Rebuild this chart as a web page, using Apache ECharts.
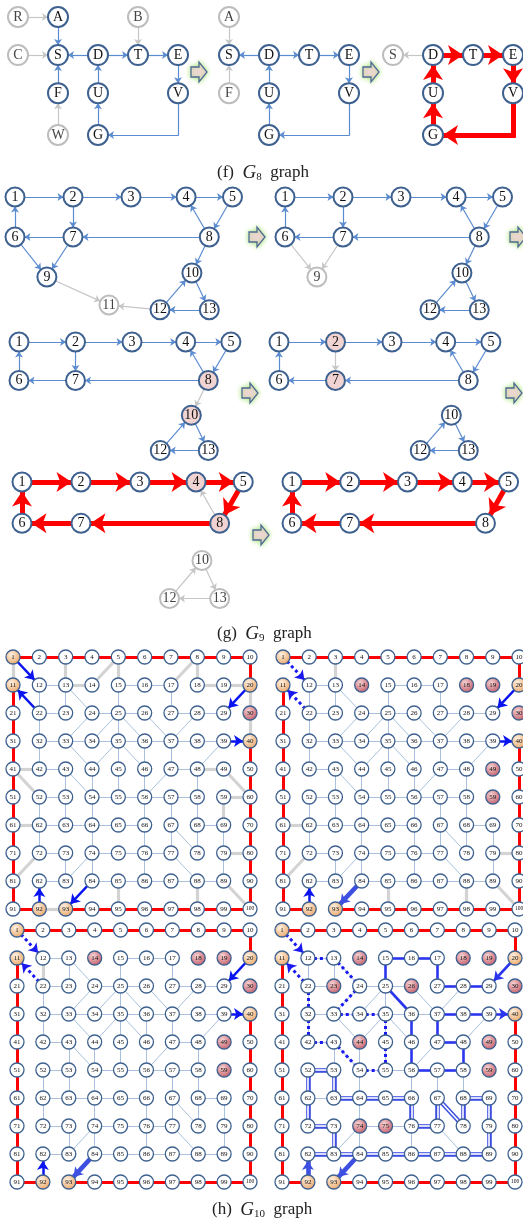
<!DOCTYPE html>
<html>
<head>
<meta charset="utf-8">
<script src="https://cdn.jsdelivr.net/npm/echarts@6/dist/echarts.min.js"></script>
<style>
  html, body { margin: 0; padding: 0; background: #fff; }
  #chart { width: 523px; height: 1220px; }
</style>
</head>
<body>
<div id="chart"></div>
<script>
// ---------------- data ----------------
// G8: node lattice positions [col, row]; K is the hidden bend of the V -> G connector
const g8Pos = { R: [0, 0], A: [1, 0], B: [3, 0], C: [0, 1], S: [1, 1], D: [2, 1], T: [3, 1], E: [4, 1],
  F: [1, 2], U: [2, 2], V: [4, 2], W: [1, 3.1], G: [2, 3.1], K: [4, 3.1] }

const f1Nodes = 'R A B C S D T E F U V W G K'
const f1Gray = 'R B C W'
const f1Blue = 'A>S D>S D>T T>E E>V F>S U>D G>U V-K K>G'
const f1GrayEdges = 'R>A C>S B>T W>F'

const f2Nodes = 'A S D T E F U V G K'
const f2Gray = 'A F'
const f2Blue = 'D>S D>T T>E E>V V-K K>G G>U U>D'
const f2GrayEdges = 'A>S F>S'

const f3Nodes = 'S D T E U V G K'
const f3Gray = 'S'
const f3Red = 'D>T T>E E>V V-K K>G G>U U>D'
const f3GrayEdges = 'D>S'

// G9
const g9Pos = { 1: [0, 0], 2: [1, 0], 3: [2, 0], 4: [2.95, 0], 5: [3.75, 0], 6: [0, 1], 7: [1, 1], 8: [3.35, 1],
  9: [0.55, 2], 10: [3.05, 1.9], 11: [1.62, 2.7], 12: [2.5, 2.82], 13: [3.35, 2.82] }
const g9Core = '1>2 2>3 3>4 4>5 6>1 7>6 8>7 8>4 5>8'

const q1Nodes = '1 2 3 4 5 6 7 8 9 10 11 12 13'
const q1Blue = g9Core + ' 2>7 6>9 7>9 8>10 10>13 13>12 12>10'
const q1GrayEdges = '9>11 12>11'
const q1Gray = '11'

const q2Nodes = '1 2 3 4 5 6 7 8 9 10 12 13'
const q2Blue = g9Core + ' 2>7 8>10 10>13 13>12 12>10'
const q2GrayEdges = '6>9 7>9'
const q2Gray = '9'

const q3Nodes = '1 2 3 4 5 6 7 8 10 12 13'
const q3Blue = g9Core + ' 2>7 10>13 13>12 12>10'
const q3GrayEdges = '8>10'
const q3Pink = '8 10'

const q4Nodes = '1 2 3 4 5 6 7 8 10 12 13'
const q4Blue = g9Core + ' 10>13 13>12 12>10'
const q4GrayEdges = '2>7'
const q4Pink = '2 7'

const q5Nodes = '1 2 3 4 5 6 7 8 10 12 13'
const q5Red = '1>2 2>3 3>4 4>5 5>8 8>7 7>6 6>1'
const q5GrayEdges = '8>4 10>13 13>12 12>10'
const q5Gray = '10 12 13'
const q5Pink = '4 8'

const q6Nodes = '1 2 3 4 5 6 7 8'
const q6Red = '1>2 2>3 3>4 4>5 5>8 8>7 7>6 6>1'

// G10: 10 x 10 grid, node n at column (n-1)%10, row floor((n-1)/10)
const g10Thin = '12-13 15-16 16-17 22-23 24-25 25-26 27-28 28-29 32-33 33-34 34-35 35-36 36-37 37-38 38-39 ' +
  '42-43 47-48 52-53 54-55 55-56 56-57 57-58 62-63 63-64 64-65 65-66 68-69 72-73 74-75 75-76 76-77 ' +
  '82-83 84-85 85-86 86-87 87-88 88-89 12-22 13-23 15-25 17-27 22-32 32-42 25-35 35-45 36-46 37-47 ' +
  '43-53 44-54 45-55 46-56 48-58 52-62 53-63 54-64 56-66 57-67 58-68 62-72 64-74 66-76 67-77 68-78 ' +
  '69-79 73-83 74-84 76-86 79-89 13-24 24-33 25-34 25-36 26-37 28-37 33-44 35-44 35-46 39-48 43-54 ' +
  '47-56 67-78 74-83 77-88'
const g10Cycle = '1-2 2-3 3-4 4-5 5-6 6-7 7-8 8-9 9-10 10-20 40-50 50-60 60-70 70-80 80-90 90-100 ' +
  '99-100 98-99 97-98 96-97 95-96 94-95 93-94 91-92 81-91 71-81 61-71 51-61 41-51 31-41 21-31 11-21'

const h1Gray = '1-11 3-13 5-14 5-15 8-17 8-18 13-14 18-19 19-20 20-30 30-40 41-42 41-52 48-49 49-60 ' +
  '59-60 59-69 61-62 72-81 79-80 92-93 85-95 88-98 89-100'
const h1Arrow = '1>12 22>11 20>29 39>40 92>82 84>93'
const h1Orange = '1 11 20 40 92 93'
const h1Pink = '30'

const h2Gray = '3-13 61-62 72-81 79-80 85-95 88-98 89-100'
const h2Dots = '1>12 22>11'
const h2Arrow = '20>29 39>40 92>82'
const h2DoubleArrow = '84>93'
const h2Orange = '1 11 20 40 92 93'
const h2Pink = '14 18 19 30 49 59'

const h3Gray = '12-22'
const h3Dots = '1>12 22>11'
const h3Arrow = '20>29 39>40 92>82'
const h3DoubleArrow = '84>93'
const h3Orange = '1 11 20 40 92 93'
const h3Pink = '14 18 19 30 49 59'

const h4Dots = '1>12 12-13 13-24 24-33 33-34 34-35 35-45 45-55 54-55 43-54 42-43 32-42 22-32 22>11'
const h4Solid = '15-16 16-17 17-27 27-28 28-29 15-25 25-36 36-46 46-56 56-57 57-58 48-58 47-48 37-47 ' +
  '37-38 38-39 39>40 20>29'
const h4Double = '52-53 52-62 62-72 72-73 53-63 63-64 64-65 65-66 66-76 76-77 67-77 67-78 68-78 68-69 ' +
  '69-79 79-89 73-83 82-83 83-84 84-85 85-86 86-87 87-88 88-89'
const h4DoubleArrow = '84>93 92>82'
const h4Orange = '1 11 20 40 92 93'
const h4Pink = '14 18 19 23 26 30 44 49 59 74 75'

// ---------------- layout & style ----------------
// [left, top, width, height, xMax, yMax]
const boxes = [
  [18, 17, 160, 118, 4, 3.1], [189, 17, 160, 118, 4, 3.1], [353, 17, 160, 118, 4, 3.1],
  [15, 197, 232, 120, 4, 3], [285, 197, 232, 120, 4, 3],
  [19, 342, 226, 115.5, 4, 3], [279, 342, 226, 115.5, 4, 3],
  [22, 482, 236, 124, 4, 3], [292, 482, 236, 124, 4, 3],
  [13, 657, 237, 252, 9, 9], [283, 657, 236, 252, 9, 9],
  [17, 930, 233, 252, 9, 9], [282, 930, 233, 252, 9, 9]
]

const SERIF = 'Liberation Serif'
const NODE_BLUE = '#3e6190'
const STY = {
  blue: { color: '#5b8bd0', width: 1.2, arrow: 6 },
  gray: { color: '#c6c6c6', width: 1.2, arrow: 6 },
  red: { color: '#ff0000', width: 5, arrow: 15 },
  thin: { color: '#a9c1de', width: 1, arrow: 0 },
  hgray: { color: '#d3d3d3', width: 3.2, arrow: 0 },
  hred: { color: '#ff0000', width: 3, arrow: 0 },
  harrow: { color: '#0a14f0', width: 2.5, arrow: 9 },
  hdots: { color: '#1a1af0', width: 3, arrow: 9, type: [3, 3] },
  hsolid: { color: '#2a35ee', width: 2.6, arrow: 9 },
  hdouble: { color: '#3d4fe0', width: 4.6, arrow: 9 },
  hdoubleIn: { color: '#ffffff', width: 1.6, arrow: 0 }
}

const list = s => s.trim().split(/\s+/).filter(Boolean)

function edges(str, sty) {
  return list(str).map(t => {
    const dir = t.indexOf('>') >= 0
    const [a, b] = t.split(/[>-]/)
    const touchesBend = a === 'K' || b === 'K'
    return {
      source: a, target: b,
      symbol: dir && sty.arrow ? ['none', 'arrow'] : ['none', 'none'],
      symbolSize: [0, sty.arrow || 1],
      lineStyle: { color: sty.color, width: sty.width, type: sty.type || 'solid', opacity: 1, curveness: 0,
        cap: touchesBend ? 'square' : 'butt' }
    }
  })
}

function node(name, pos, size, fill, border, fontSize) {
  return {
    name: name, value: pos, symbolSize: size,
    itemStyle: { color: fill, borderColor: border, borderWidth: size > 16 ? 2 : 1.3 },
    label: { show: true, position: 'inside', fontFamily: SERIF, fontSize: fontSize, color: border === '#bdbdbd' ? '#444' : '#111' }
  }
}

const orangeFill = { type: 'radial', x: 0.4, y: 0.35, r: 0.65,
  colorStops: [{ offset: 0, color: '#fff1e2' }, { offset: 1, color: '#eba86a' }] }
const pinkFill = { type: 'radial', x: 0.4, y: 0.35, r: 0.65,
  colorStops: [{ offset: 0, color: '#f6d2d2' }, { offset: 1, color: '#c4606c' }] }

function smallGraphNodes(posMap, names, gray, pink, size, fontSize) {
  const grayS = list(gray || ''), pinkS = list(pink || '')
  return list(names).map(n => {
    if (n === 'K') return { name: 'K', value: posMap.K, symbolSize: 0.1, itemStyle: { opacity: 0 }, label: { show: false } }
    const isGray = grayS.indexOf(n) >= 0
    const isPink = pinkS.indexOf(n) >= 0
    return node(n, posMap[n], size, isPink ? '#f1d3d1' : '#fff', isGray ? '#bdbdbd' : NODE_BLUE, fontSize)
  })
}

function gridNodes(orange, pink) {
  const o = list(orange), p = list(pink)
  const out = []
  for (let n = 1; n <= 100; n++) {
    const s = String(n)
    const fill = o.indexOf(s) >= 0 ? orangeFill : p.indexOf(s) >= 0 ? pinkFill : '#fff'
    out.push(node(s, [(n - 1) % 10, Math.floor((n - 1) / 10)], 14, fill, NODE_BLUE, n === 100 ? 5.5 : 7))
  }
  return out
}

function graph(idx, nodes, links) {
  return {
    type: 'graph', coordinateSystem: 'cartesian2d', xAxisIndex: idx, yAxisIndex: idx,
    symbol: 'circle', data: nodes, links: links, silent: true, animation: false,
    emphasis: { disabled: true }, z: 2
  }
}

const series = [
  graph(0, smallGraphNodes(g8Pos, f1Nodes, f1Gray, '', 20, 14), edges(f1GrayEdges, STY.gray).concat(edges(f1Blue, STY.blue))),
  graph(1, smallGraphNodes(g8Pos, f2Nodes, f2Gray, '', 20, 14), edges(f2GrayEdges, STY.gray).concat(edges(f2Blue, STY.blue))),
  graph(2, smallGraphNodes(g8Pos, f3Nodes, f3Gray, '', 20, 14), edges(f3GrayEdges, STY.gray).concat(edges(f3Red, STY.red))),
  graph(3, smallGraphNodes(g9Pos, q1Nodes, q1Gray, '', 19, 14), edges(q1GrayEdges, STY.gray).concat(edges(q1Blue, STY.blue))),
  graph(4, smallGraphNodes(g9Pos, q2Nodes, q2Gray, '', 19, 14), edges(q2GrayEdges, STY.gray).concat(edges(q2Blue, STY.blue))),
  graph(5, smallGraphNodes(g9Pos, q3Nodes, '', q3Pink, 19, 14), edges(q3GrayEdges, STY.gray).concat(edges(q3Blue, STY.blue))),
  graph(6, smallGraphNodes(g9Pos, q4Nodes, '', q4Pink, 19, 14), edges(q4GrayEdges, STY.gray).concat(edges(q4Blue, STY.blue))),
  graph(7, smallGraphNodes(g9Pos, q5Nodes, q5Gray, q5Pink, 19, 14), edges(q5GrayEdges, STY.gray).concat(edges(q5Red, STY.red))),
  graph(8, smallGraphNodes(g9Pos, q6Nodes, '', '', 19, 14), edges(q6Red, STY.red)),
  graph(9, gridNodes(h1Orange, h1Pink),
    edges(g10Thin, STY.thin).concat(edges(h1Gray, STY.hgray), edges(g10Cycle, STY.hred), edges(h1Arrow, STY.harrow))),
  graph(10, gridNodes(h2Orange, h2Pink),
    edges(g10Thin, STY.thin).concat(edges(h2Gray, STY.hgray), edges(g10Cycle, STY.hred), edges(h2Dots, STY.hdots),
      edges(h2Arrow, STY.harrow), edges(h2DoubleArrow, STY.hdouble))),
  graph(11, gridNodes(h3Orange, h3Pink),
    edges(g10Thin, STY.thin).concat(edges(h3Gray, STY.hgray), edges(g10Cycle, STY.hred), edges(h3Dots, STY.hdots),
      edges(h3Arrow, STY.harrow), edges(h3DoubleArrow, STY.hdouble))),
  graph(12, gridNodes(h4Orange, h4Pink),
    edges(g10Thin, STY.thin).concat(edges(g10Cycle, STY.hred), edges(h4Dots, STY.hdots), edges(h4Solid, STY.hsolid),
      edges(h4Double, STY.hdouble), edges(h4Double, STY.hdoubleIn), edges(h4DoubleArrow, STY.hdouble)))
]

// step arrows between the sub-figures (centre x, y)
const stepArrows = [[199, 72], [371, 72], [257, 237], [518, 237], [250, 393], [514, 393], [261, 535]]

const captions = [['f', '8', 212, 158], ['g', '9', 212, 619], ['h', '10', 207, 1195]]

const chart = echarts.init(document.getElementById('chart'), null, { renderer: 'canvas' })
chart.setOption({
  backgroundColor: '#fff',
  animation: false,
  grid: boxes.map(b => ({ left: b[0], top: b[1], width: b[2], height: b[3], containLabel: false, show: false })),
  xAxis: boxes.map((b, i) => ({ type: 'value', gridIndex: i, min: 0, max: b[4], show: false })),
  yAxis: boxes.map((b, i) => ({ type: 'value', gridIndex: i, min: 0, max: b[5], inverse: true, show: false })),
  title: captions.map(c => ({
    text: '(' + c[0] + ')  {i|G}{s|' + c[1] + '}  graph',
    left: c[2], top: c[3],
    textStyle: {
      fontFamily: SERIF, fontSize: 17, fontWeight: 'normal', color: '#222',
      rich: {
        i: { fontFamily: SERIF, fontStyle: 'italic', fontSize: 19, color: '#222' },
        s: { fontFamily: SERIF, fontSize: 11, color: '#222', padding: [9, 0, 0, 0] }
      }
    }
  })),
  graphic: stepArrows.map(p => ({
    type: 'polygon', x: p[0], y: p[1], silent: true, z: 1,
    shape: { points: [[-8, -5], [0, -5], [0, -10], [8, 0], [0, 10], [0, 5], [-8, 5]] },
    style: { fill: '#f3d5da', stroke: '#4d6a94', lineWidth: 1.3, shadowBlur: 5, shadowColor: '#a6e070' }
  })),
  series: series
})
</script>
</body>
</html>
